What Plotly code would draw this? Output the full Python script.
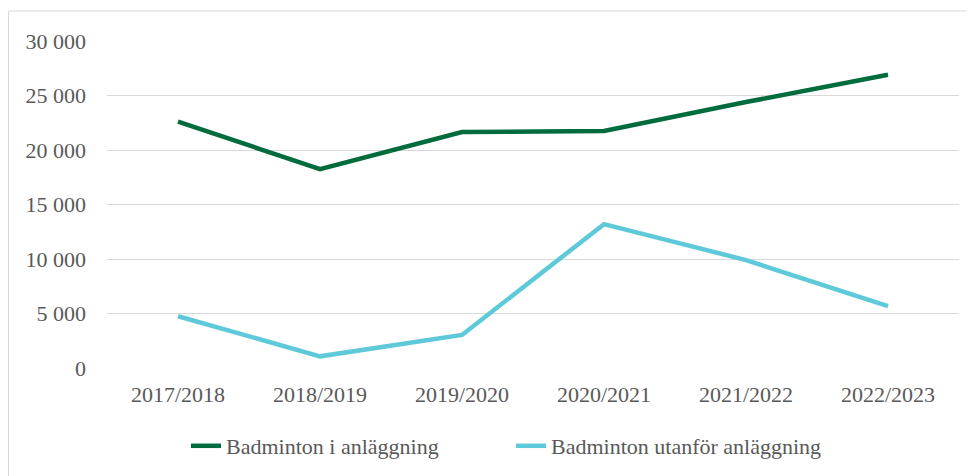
import plotly.graph_objects as go

seasons = ["2017/2018", "2018/2019", "2019/2020", "2020/2021", "2021/2022", "2022/2023"]
i_anlaggning = [22600, 18250, 21650, 21750, 24400, 26900]
utanfor_anlaggning = [4750, 1070, 3030, 13200, 9900, 5670]
y_ticks = [0, 5000, 10000, 15000, 20000, 25000, 30000]
y_tick_labels = ["0", "5 000", "10 000", "15 000", "20 000", "25 000", "30 000"]

font = "Liberation Serif"
fs = 22
grey = "#595959"

fig = go.Figure()
fig.add_trace(go.Scatter(x=seasons, y=i_anlaggning, mode="lines", name="Badminton i anläggning",
                         line=dict(color="#006B3C", width=4.5)))
fig.add_trace(go.Scatter(x=seasons, y=utanfor_anlaggning, mode="lines", name="Badminton utanför anläggning",
                         line=dict(color="#5DC9D9", width=4.5)))

# page is offset by the default 8px body margin
OFF = 8
W, H = 975 - OFF, 476 - OFF
L, T = 107 - OFF, 41 - OFF
R = W - (959 - OFF)
B = H - (368 - OFF)
pw, ph = W - L - R, H - T - B

def px(x):
    return (x - OFF - L) / pw

def py(y):
    return (H - B - (y - OFF)) / ph

fig.add_shape(type="rect", xref="paper", yref="paper",
              x0=px(8.5), x1=px(968), y0=py(11), y1=py(490),
              line=dict(color="#D9D9D9", width=1), fillcolor="rgba(0,0,0,0)", layer="below")

fig.update_layout(
    width=W, height=H,
    margin=dict(l=L, r=R, t=T, b=B, autoexpand=False),
    paper_bgcolor="white", plot_bgcolor="white",
    font=dict(family=font, size=fs, color=grey),
    showlegend=True,
    legend=dict(orientation="h", x=px(186), xanchor="left", y=py(446), yanchor="middle",
                font=dict(family=font, size=fs, color=grey), itemwidth=30,
                entrywidth=280, entrywidthmode="pixels",
                tracegroupgap=0, bgcolor="rgba(0,0,0,0)"),
    xaxis=dict(range=[-0.5, 5.5], showgrid=False, showline=False, zeroline=False, ticks="",
               tickfont=dict(family=font, size=fs, color=grey), ticklabelstandoff=11,
               automargin=False),
    yaxis=dict(range=[0, 30000], tickvals=y_ticks, ticktext=y_tick_labels,
               showgrid=True, gridcolor="#D9D9D9", gridwidth=1, zeroline=False,
               showline=False, ticks="", ticklabelstandoff=20, automargin=False,
               tickfont=dict(family=font, size=fs, color=grey)),
)

fig.write_html("out.html")
